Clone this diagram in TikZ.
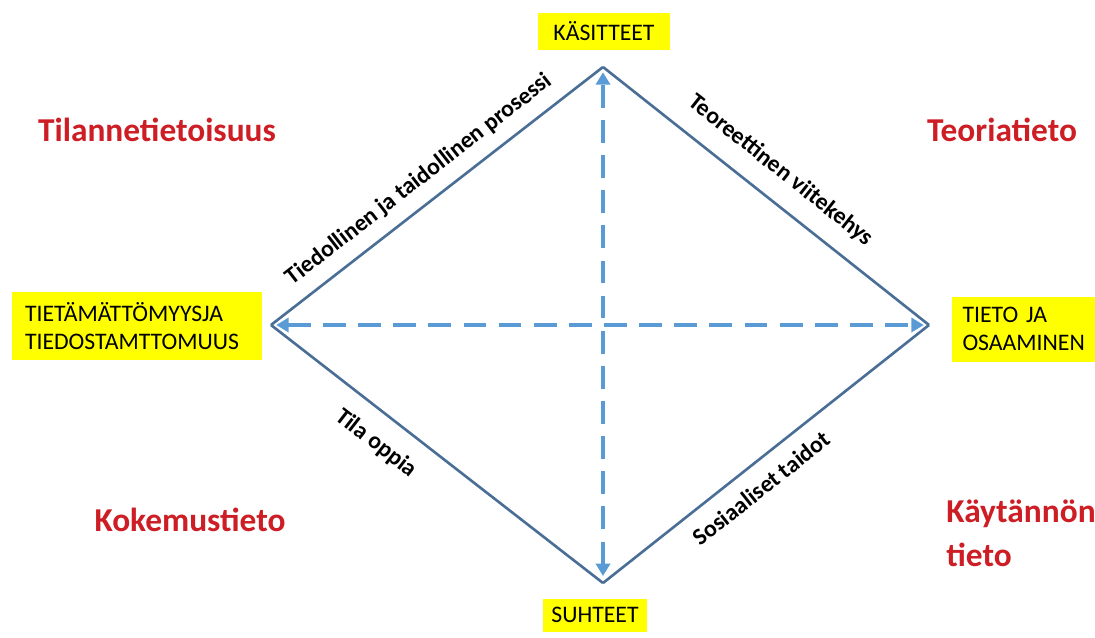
\documentclass[tikz,border=0pt]{standalone}
\usepackage{fontspec}
\setmainfont{Carlito}
\usepackage{xcolor}
\definecolor{edgeblue}{RGB}{74,110,150}
\definecolor{dashblue}{RGB}{91,155,213}
\definecolor{labred}{RGB}{204,30,36}
\definecolor{boxyellow}{RGB}{255,255,0}
\usetikzlibrary{arrows.meta,positioning}

\begin{document}
\begin{tikzpicture}[x=0.02cm,y=-0.02cm,
  ybox/.style={fill=boxyellow,inner sep=0pt,font=\fontsize{13.5pt}{16pt}\selectfont},
  redlab/.style={labred,font=\fontsize{19pt}{25pt}\selectfont\bfseries,align=left},
  elab/.style={text=black,font=\fontsize{13.5pt}{15pt}\selectfont\bfseries,sloped,inner sep=0pt},
  edge/.style={edgeblue,line width=1.5pt},
  darr/.style={dashblue,line width=2.3pt,dash pattern=on 13pt off 7pt,
    {Triangle[length=7pt,width=8pt]}-{Triangle[length=7pt,width=8pt]}}
]
  \useasboundingbox (0,0) rectangle (1095,637);
  % diamond corners
  \coordinate (T) at (603,67);
  \coordinate (L) at (271,325);
  \coordinate (R) at (929,325);
  \coordinate (B) at (603,583);
  % yellow boxes
  \node[ybox,minimum width=2.64cm,minimum height=0.74cm] (kasit) at (604,31) {KÄSITTEET};
  \node[ybox,minimum width=2.1cm,minimum height=0.66cm] (suht) at (595,615) {SUHTEET};
  \node[ybox,align=left,text width=4.48cm,inner xsep=0.26cm,minimum height=1.36cm] (tietam) at (137,326) {TIETÄMÄTTÖMYYSJA\\TIEDOSTAMTTOMUUS};
  \node[ybox,align=left,text width=2.42cm,inner xsep=0.22cm,minimum height=1.3cm] (tieto) at (1023,329) {TIETO JA\\OSAAMINEN};
  % red labels
  \node[redlab] (tilanne) at (157,130) {Tilannetietoisuus};
  \node[redlab] (teoria) at (1002,130) {Teoriatieto};
  \node[redlab] (kokemus) at (190,520) {Kokemustieto};
  \node[redlab] (kaytanto) at (1021,533) {Käytännön\\tieto};
  % dashed axes
  \draw[darr,shorten <=4pt,shorten >=3pt] (B) -- (T);
  \draw[darr,shorten <=3pt,shorten >=3pt] (L) -- (R);
  % diamond
  \draw[edge] (L) -- node[elab,above=7pt,pos=0.49] (tiedol) {Tiedollinen ja taidollinen prosessi} (T);
  \draw[edge] (T) -- node[elab,above=10pt,pos=0.49] (teoreet) {Teoreettinen viitekehys} (R);
  \draw[edge] (L) -- node[elab,below=10pt,pos=0.37] (tila) {Tila oppia} (B);
  \draw[edge] (B) -- node[elab,below=8pt,pos=0.44] (sosiaal) {Sosiaaliset taidot} (R);
\end{tikzpicture}
\end{document}
